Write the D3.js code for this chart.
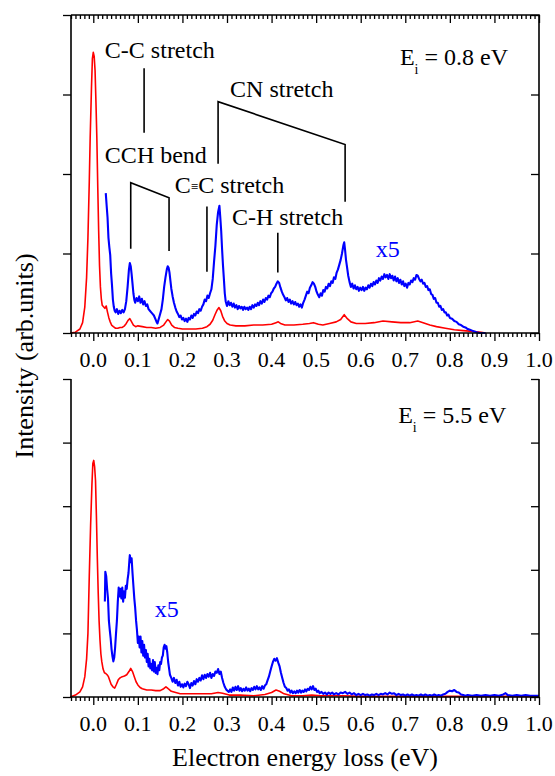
<!DOCTYPE html>
<html><head><meta charset="utf-8">
<script src="https://cdn.jsdelivr.net/npm/d3@7"></script>
<style>body{margin:0;background:#fff}</style>
</head><body>
<svg id="c" width="555" height="776" font-family="Liberation Serif"></svg>
<script>
// ---------- data ----------
const xMajorTicks = [0,0.1,0.2,0.3,0.4,0.5,0.6,0.7,0.8,0.9,1.0];
const xTickLabels = ["0.0","0.1","0.2","0.3","0.4","0.5","0.6","0.7","0.8","0.9","1.0"];
const yTopTicks = [0,1,2,3,4];
const yBotTicks = [0,1,2,3,4,5];

// Ei = 0.8 eV, raw spectrum (red)
const topRed = [[-0.052,0],[-0.04,0.01],[-0.03,0.05],[-0.024,0.13],[-0.019,0.33],[-0.015,0.7],[-0.012,1.2],[-0.009,1.9],[-0.007,2.45],[-0.004,3.1],[-0.002,3.45],[0,3.53],[0.002,3.48],[0.004,3.3],[0.006,2.9],[0.008,2.45],[0.01,1.85],[0.012,1.3],[0.014,0.85],[0.016,0.58],[0.018,0.43],[0.02,0.35],[0.023,0.33],[0.026,0.31],[0.029,0.34],[0.032,0.26],[0.035,0.19],[0.038,0.14],[0.041,0.1],[0.045,0.08],[0.05,0.06],[0.055,0.06],[0.06,0.07],[0.065,0.07],[0.07,0.09],[0.074,0.12],[0.078,0.16],[0.082,0.18],[0.086,0.14],[0.09,0.1],[0.095,0.08],[0.1,0.09],[0.11,0.08],[0.12,0.07],[0.13,0.07],[0.14,0.06],[0.15,0.07],[0.158,0.1],[0.163,0.14],[0.167,0.17],[0.171,0.15],[0.176,0.1],[0.182,0.07],[0.19,0.06],[0.2,0.05],[0.215,0.05],[0.23,0.05],[0.245,0.06],[0.255,0.08],[0.262,0.11],[0.268,0.16],[0.273,0.23],[0.278,0.29],[0.282,0.32],[0.286,0.28],[0.29,0.21],[0.295,0.15],[0.3,0.12],[0.307,0.1],[0.32,0.09],[0.34,0.09],[0.36,0.1],[0.38,0.1],[0.4,0.11],[0.41,0.13],[0.415,0.14],[0.42,0.12],[0.43,0.1],[0.45,0.1],[0.47,0.11],[0.485,0.12],[0.494,0.13],[0.505,0.11],[0.515,0.1],[0.53,0.12],[0.545,0.14],[0.555,0.17],[0.563,0.23],[0.57,0.18],[0.578,0.14],[0.59,0.12],[0.61,0.12],[0.63,0.13],[0.65,0.15],[0.67,0.14],[0.69,0.13],[0.71,0.13],[0.728,0.15],[0.74,0.13],[0.755,0.1],[0.77,0.08],[0.79,0.06],[0.81,0.04],[0.83,0.03],[0.85,0.02],[0.87,0.01],[0.88,0]];

// Ei = 0.8 eV, x5 spectrum (blue)
const topBlue = [[0.028,1.76],[0.03,1.6],[0.032,1.45],[0.034,1.2],[0.036,1.08],[0.038,0.98],[0.04,0.75],[0.042,0.6],[0.044,0.42],[0.046,0.33],[0.048,0.28],[0.05,0.26],[0.053,0.3],[0.056,0.24],[0.059,0.28],[0.062,0.25],[0.065,0.29],[0.068,0.26],[0.071,0.3],[0.074,0.4],[0.077,0.58],[0.08,0.8],[0.082,0.88],[0.084,0.84],[0.086,0.74],[0.088,0.62],[0.09,0.5],[0.092,0.42],[0.094,0.38],[0.097,0.44],[0.1,0.4],[0.103,0.46],[0.106,0.38],[0.109,0.43],[0.112,0.36],[0.115,0.4],[0.118,0.34],[0.121,0.36],[0.124,0.3],[0.127,0.28],[0.13,0.26],[0.133,0.24],[0.136,0.22],[0.139,0.18],[0.142,0.14],[0.144,0.12],[0.147,0.18],[0.15,0.24],[0.153,0.3],[0.156,0.42],[0.159,0.58],[0.162,0.7],[0.165,0.8],[0.167,0.84],[0.169,0.82],[0.171,0.76],[0.173,0.66],[0.175,0.56],[0.178,0.46],[0.181,0.38],[0.184,0.32],[0.187,0.27],[0.19,0.24],[0.193,0.2],[0.196,0.22],[0.199,0.17],[0.202,0.19],[0.205,0.15],[0.208,0.18],[0.211,0.14],[0.214,0.19],[0.217,0.17],[0.22,0.22],[0.223,0.19],[0.226,0.24],[0.229,0.22],[0.232,0.27],[0.235,0.25],[0.238,0.3],[0.241,0.28],[0.244,0.33],[0.247,0.36],[0.25,0.42],[0.253,0.4],[0.256,0.47],[0.259,0.44],[0.262,0.5],[0.265,0.55],[0.268,0.68],[0.271,0.9],[0.274,1.1],[0.277,1.36],[0.28,1.52],[0.283,1.6],[0.285,1.45],[0.287,1.28],[0.289,1.05],[0.291,0.85],[0.293,0.68],[0.295,0.5],[0.297,0.4],[0.3,0.34],[0.303,0.4],[0.306,0.35],[0.309,0.38],[0.312,0.33],[0.315,0.37],[0.318,0.32],[0.321,0.35],[0.324,0.3],[0.327,0.34],[0.33,0.31],[0.333,0.33],[0.336,0.29],[0.339,0.33],[0.342,0.3],[0.345,0.32],[0.348,0.29],[0.351,0.33],[0.354,0.3],[0.357,0.35],[0.36,0.32],[0.363,0.36],[0.366,0.34],[0.369,0.38],[0.372,0.35],[0.375,0.4],[0.378,0.37],[0.381,0.42],[0.384,0.39],[0.387,0.44],[0.39,0.42],[0.393,0.47],[0.396,0.45],[0.399,0.5],[0.402,0.52],[0.405,0.56],[0.408,0.58],[0.411,0.62],[0.414,0.65],[0.417,0.63],[0.42,0.57],[0.423,0.52],[0.426,0.48],[0.429,0.45],[0.432,0.41],[0.435,0.44],[0.438,0.39],[0.441,0.42],[0.444,0.37],[0.447,0.4],[0.45,0.36],[0.453,0.39],[0.456,0.35],[0.459,0.37],[0.462,0.33],[0.465,0.36],[0.468,0.32],[0.471,0.38],[0.474,0.42],[0.477,0.47],[0.48,0.52],[0.483,0.5],[0.486,0.57],[0.489,0.6],[0.492,0.64],[0.495,0.62],[0.498,0.58],[0.501,0.52],[0.504,0.48],[0.507,0.45],[0.51,0.5],[0.513,0.47],[0.516,0.54],[0.519,0.52],[0.522,0.58],[0.525,0.56],[0.528,0.62],[0.531,0.59],[0.534,0.65],[0.537,0.63],[0.54,0.7],[0.543,0.68],[0.546,0.76],[0.549,0.8],[0.552,0.86],[0.555,0.92],[0.558,1.0],[0.561,1.1],[0.563,1.14],[0.565,1.04],[0.567,0.92],[0.569,0.84],[0.572,0.72],[0.575,0.64],[0.578,0.58],[0.581,0.62],[0.584,0.56],[0.587,0.6],[0.59,0.55],[0.593,0.58],[0.596,0.53],[0.599,0.57],[0.602,0.54],[0.605,0.58],[0.608,0.53],[0.611,0.57],[0.614,0.55],[0.617,0.6],[0.62,0.57],[0.623,0.62],[0.626,0.59],[0.629,0.64],[0.632,0.61],[0.635,0.66],[0.638,0.63],[0.641,0.69],[0.644,0.66],[0.647,0.71],[0.65,0.68],[0.653,0.74],[0.656,0.7],[0.659,0.73],[0.662,0.68],[0.665,0.74],[0.668,0.69],[0.671,0.72],[0.674,0.66],[0.677,0.71],[0.68,0.65],[0.683,0.69],[0.686,0.63],[0.689,0.67],[0.692,0.61],[0.695,0.65],[0.698,0.59],[0.701,0.62],[0.704,0.57],[0.707,0.63],[0.71,0.61],[0.713,0.66],[0.716,0.64],[0.719,0.69],[0.722,0.67],[0.725,0.73],[0.728,0.72],[0.731,0.68],[0.734,0.65],[0.737,0.67],[0.74,0.62],[0.743,0.63],[0.746,0.58],[0.749,0.59],[0.752,0.54],[0.755,0.55],[0.758,0.49],[0.761,0.48],[0.764,0.43],[0.767,0.44],[0.77,0.38],[0.773,0.38],[0.776,0.33],[0.779,0.34],[0.782,0.29],[0.785,0.3],[0.788,0.26],[0.791,0.26],[0.794,0.22],[0.797,0.23],[0.8,0.19],[0.805,0.18],[0.81,0.15],[0.815,0.14],[0.82,0.11],[0.825,0.1],[0.83,0.08],[0.835,0.07],[0.84,0.05],[0.845,0.04],[0.85,0.03],[0.855,0.02],[0.86,0.01],[0.866,0],[0.88,0]];

// Ei = 5.5 eV, raw spectrum (red)
const botRed = [[-0.052,0],[-0.04,0.03],[-0.03,0.08],[-0.024,0.16],[-0.019,0.32],[-0.015,0.6],[-0.012,1.0],[-0.009,1.9],[-0.006,2.7],[-0.003,3.35],[-0.001,3.67],[0.001,3.72],[0.003,3.62],[0.005,3.4],[0.007,2.85],[0.009,2.2],[0.011,1.65],[0.013,1.2],[0.015,0.9],[0.017,0.68],[0.019,0.56],[0.022,0.44],[0.025,0.38],[0.028,0.37],[0.031,0.35],[0.034,0.32],[0.037,0.26],[0.04,0.2],[0.044,0.16],[0.048,0.14],[0.052,0.2],[0.056,0.27],[0.06,0.3],[0.065,0.32],[0.07,0.33],[0.075,0.35],[0.08,0.4],[0.084,0.45],[0.088,0.4],[0.092,0.32],[0.096,0.24],[0.1,0.19],[0.105,0.15],[0.11,0.13],[0.12,0.11],[0.13,0.11],[0.14,0.1],[0.15,0.1],[0.158,0.13],[0.163,0.16],[0.168,0.13],[0.175,0.09],[0.185,0.07],[0.195,0.05],[0.21,0.05],[0.23,0.05],[0.25,0.05],[0.265,0.05],[0.28,0.07],[0.29,0.06],[0.305,0.03],[0.33,0.03],[0.36,0.02],[0.385,0.04],[0.4,0.07],[0.41,0.11],[0.418,0.09],[0.428,0.05],[0.445,0.02],[0.47,0.02],[0.49,0.03],[0.51,0.02],[0.56,0.02],[0.6,0.01],[0.7,0.01],[0.8,0.01],[1.0,0.01]];

// Ei = 5.5 eV, x5 spectrum (blue)
const botBlue = [[0.026,1.5],[0.027,1.97],[0.029,1.9],[0.031,1.7],[0.033,1.55],[0.035,1.2],[0.037,1.05],[0.039,0.92],[0.041,0.75],[0.043,0.64],[0.045,0.56],[0.047,0.62],[0.049,0.78],[0.051,1.0],[0.053,1.2],[0.055,1.5],[0.057,1.72],[0.059,1.58],[0.061,1.7],[0.063,1.55],[0.065,1.72],[0.067,1.5],[0.069,1.66],[0.071,1.56],[0.073,1.75],[0.075,1.7],[0.077,1.85],[0.079,1.95],[0.081,2.15],[0.082,2.23],[0.084,2.12],[0.086,2.18],[0.088,1.95],[0.09,1.75],[0.092,1.55],[0.094,1.4],[0.096,1.2],[0.098,1.05],[0.1,0.85],[0.102,0.95],[0.104,0.78],[0.106,0.95],[0.108,0.7],[0.11,0.88],[0.112,0.65],[0.114,0.82],[0.116,0.62],[0.118,0.74],[0.12,0.55],[0.122,0.68],[0.124,0.48],[0.126,0.6],[0.128,0.45],[0.13,0.52],[0.132,0.42],[0.134,0.58],[0.136,0.4],[0.138,0.55],[0.14,0.38],[0.142,0.46],[0.144,0.36],[0.146,0.5],[0.148,0.42],[0.15,0.55],[0.152,0.52],[0.154,0.62],[0.156,0.65],[0.158,0.78],[0.16,0.82],[0.162,0.76],[0.164,0.8],[0.166,0.7],[0.168,0.55],[0.17,0.45],[0.172,0.35],[0.175,0.3],[0.178,0.24],[0.181,0.3],[0.184,0.22],[0.187,0.27],[0.19,0.18],[0.193,0.24],[0.196,0.16],[0.199,0.2],[0.202,0.15],[0.205,0.21],[0.208,0.17],[0.211,0.24],[0.214,0.2],[0.217,0.14],[0.22,0.22],[0.223,0.18],[0.226,0.25],[0.229,0.2],[0.232,0.28],[0.235,0.24],[0.238,0.3],[0.241,0.26],[0.244,0.34],[0.247,0.28],[0.25,0.35],[0.253,0.3],[0.256,0.36],[0.259,0.32],[0.262,0.38],[0.265,0.3],[0.268,0.36],[0.271,0.33],[0.274,0.4],[0.277,0.38],[0.28,0.44],[0.283,0.36],[0.286,0.4],[0.289,0.3],[0.292,0.22],[0.295,0.16],[0.298,0.12],[0.301,0.1],[0.304,0.08],[0.307,0.12],[0.31,0.08],[0.313,0.15],[0.316,0.1],[0.319,0.16],[0.322,0.11],[0.325,0.17],[0.328,0.1],[0.331,0.14],[0.334,0.09],[0.337,0.13],[0.34,0.1],[0.343,0.15],[0.346,0.1],[0.349,0.13],[0.352,0.09],[0.355,0.14],[0.358,0.11],[0.361,0.16],[0.364,0.12],[0.367,0.17],[0.37,0.12],[0.373,0.15],[0.376,0.11],[0.379,0.17],[0.382,0.13],[0.385,0.18],[0.388,0.2],[0.391,0.26],[0.394,0.32],[0.397,0.4],[0.4,0.48],[0.403,0.55],[0.406,0.6],[0.409,0.57],[0.412,0.61],[0.415,0.54],[0.418,0.48],[0.421,0.38],[0.424,0.3],[0.427,0.22],[0.43,0.16],[0.433,0.14],[0.436,0.1],[0.439,0.12],[0.442,0.07],[0.445,0.1],[0.448,0.06],[0.451,0.09],[0.454,0.06],[0.457,0.1],[0.46,0.07],[0.463,0.11],[0.466,0.07],[0.469,0.1],[0.472,0.08],[0.475,0.12],[0.478,0.09],[0.481,0.13],[0.484,0.11],[0.487,0.16],[0.49,0.12],[0.493,0.17],[0.496,0.11],[0.499,0.13],[0.502,0.08],[0.505,0.1],[0.508,0.06],[0.512,0.08],[0.516,0.05],[0.52,0.07],[0.524,0.04],[0.528,0.07],[0.532,0.05],[0.536,0.07],[0.54,0.04],[0.545,0.06],[0.55,0.04],[0.555,0.07],[0.56,0.06],[0.565,0.08],[0.57,0.05],[0.575,0.07],[0.58,0.04],[0.585,0.06],[0.59,0.03],[0.595,0.05],[0.6,0.03],[0.605,0.05],[0.61,0.03],[0.615,0.04],[0.62,0.02],[0.625,0.04],[0.63,0.03],[0.635,0.05],[0.64,0.03],[0.645,0.05],[0.65,0.04],[0.655,0.06],[0.66,0.04],[0.665,0.07],[0.67,0.05],[0.675,0.06],[0.68,0.03],[0.685,0.05],[0.69,0.03],[0.695,0.04],[0.7,0.02],[0.705,0.04],[0.71,0.02],[0.715,0.04],[0.72,0.02],[0.725,0.03],[0.73,0.02],[0.735,0.04],[0.74,0.02],[0.745,0.04],[0.75,0.02],[0.755,0.03],[0.76,0.02],[0.765,0.04],[0.77,0.02],[0.775,0.03],[0.78,0.02],[0.785,0.04],[0.79,0.05],[0.795,0.08],[0.8,0.1],[0.805,0.09],[0.81,0.11],[0.815,0.08],[0.82,0.07],[0.825,0.04],[0.83,0.03],[0.835,0.02],[0.84,0.03],[0.85,0.02],[0.86,0.03],[0.87,0.02],[0.88,0.03],[0.89,0.02],[0.9,0.03],[0.91,0.02],[0.92,0.04],[0.925,0.06],[0.93,0.03],[0.94,0.02],[0.95,0.03],[0.96,0.02],[0.97,0.03],[0.98,0.02],[0.99,0.02],[1.0,0.02]];

// annotation labels (top panel, data coordinates)
const annoLines = [
  [[0.114,3.33],[0.114,2.52]],
  [[0.084,1.06],[0.084,1.89],[0.170,1.70],[0.170,1.03]],
  [[0.255,1.59],[0.255,0.77]],
  [[0.280,2.13],[0.280,2.91],[0.565,2.37],[0.565,1.65]],
  [[0.414,1.26],[0.414,0.76]]
];
const annoTexts = [
  {x:0.026,y:3.46,parts:["C-C stretch"]},
  {x:0.026,y:2.14,parts:["CCH bend"]},
  {x:0.307,y:2.97,parts:["CN stretch"]},
  {x:0.183,y:1.76,parts:["C","\u2261","C stretch"]},
  {x:0.311,y:1.36,parts:["C-H stretch"]}
];
</script>
<script>
const FAM = "Liberation Serif";
const svg = d3.select("#c");
const x = d3.scaleLinear().domain([-0.05,1.0]).range([71,539]);
const yT = d3.scaleLinear().domain([0,4]).range([333,15]);
const yB = d3.scaleLinear().domain([0,5]).range([697,379]);
const minor = d3.range(-5,101).filter(i=>i%10!==0).map(i=>i/100);
const FS = 22;

function txt(sel, size){
  return sel.attr("font-family",FAM).attr("font-size",size);
}

function panel(y, redD, blueD, hasTop, ticks){
  const g = svg.append("g");
  const line = d3.line().x(d=>x(d[0])).y(d=>y(d[1]));
  g.append("path").datum(redD).attr("d",line).attr("fill","none").attr("stroke","#ff0000").attr("stroke-width",1.6).attr("stroke-linejoin","round");
  g.append("path").datum(blueD).attr("d",line).attr("fill","none").attr("stroke","#0000ff").attr("stroke-width",2.1).attr("stroke-linejoin","round");
  const y0 = y.range()[0], y1 = y.range()[1];
  const bMin = g.append("g").attr("transform",`translate(0,${y0})`)
    .call(d3.axisBottom(x).tickValues(minor).tickSize(4).tickFormat(""));
  bMin.select(".domain").remove();
  const bMaj = g.append("g").attr("transform",`translate(0,${y0})`)
    .call(d3.axisBottom(x).tickValues(xMajorTicks).tickSize(8).tickFormat(""));
  bMaj.select(".domain").remove();
  g.selectAll("text.xl").data(xMajorTicks).join("text").attr("class","xl")
    .attr("x",d=>x(d)).attr("y",y0+33.5).attr("text-anchor","middle")
    .attr("font-family",FAM).attr("font-size",FS).attr("fill","#000")
    .text((d,i)=>xTickLabels[i]);
  if(hasTop){
    const tMaj = g.append("g").attr("transform",`translate(0,${y1})`)
      .call(d3.axisTop(x).tickValues(xMajorTicks).tickSize(-8).tickFormat(""));
    tMaj.select(".domain").remove();
    const tMin = g.append("g").attr("transform",`translate(0,${y1})`)
      .call(d3.axisTop(x).tickValues(minor).tickSize(-4).tickFormat(""));
    tMin.select(".domain").remove();
  }
  const l = g.append("g").attr("transform",`translate(71,0)`).call(d3.axisLeft(y).tickValues(ticks).tickSize(8).tickFormat(""));
  l.select(".domain").remove();
  const r = g.append("g").attr("transform",`translate(539,0)`).call(d3.axisRight(y).tickValues(ticks).tickSize(-8).tickFormat(""));
  r.select(".domain").remove();
  g.selectAll(".tick line").attr("stroke","#000").attr("stroke-width",1.3);
  const fr = [[71,y1],[71,y0],[539,y0],[539,y1]];
  if(hasTop) fr.push([71,y1]);
  g.append("path").attr("d",d3.line()(fr)).attr("fill","none").attr("stroke","#000").attr("stroke-width",1.6);
  return g;
}

panel(yT, topRed, topBlue, true, yTopTicks);
panel(yB, botRed, botBlue, false, yBotTicks);

// annotations
const aLine = d3.line().x(d=>x(d[0])).y(d=>yT(d[1]));
annoLines.forEach(p=>{
  svg.append("path").attr("d",aLine(p)).attr("fill","none").attr("stroke","#000").attr("stroke-width",1.6);
});
annoTexts.forEach(a=>{
  const t = txt(svg.append("text").attr("x",x(a.x)).attr("y",yT(a.y)), 24).attr("fill","#000");
  a.parts.forEach(p=>{
    if(p==="\u2261") t.append("tspan").text(p).attr("font-size",13).attr("dy",-2);
    else if(a.parts.length>1 && p!=="C") t.append("tspan").text(p).attr("dy",2);
    else t.append("tspan").text(p);
  });
});
function eiLabel(xv,yv,yS,val){
  const t = txt(svg.append("text").attr("x",x(xv)).attr("y",yS(yv)), 24).attr("fill","#000");
  t.append("tspan").text("E");
  t.append("tspan").text("i").attr("font-size",14).attr("dy",9);
  t.append("tspan").text(" = "+val+" eV").attr("dy",-9);
}
eiLabel(0.688,3.37,yT,"0.8");
eiLabel(0.684,4.31,yB,"5.5");
txt(svg.append("text").attr("x",x(0.634)).attr("y",yT(0.956)),24).attr("fill","#0000ff").text("x5");
txt(svg.append("text").attr("x",x(0.138)).attr("y",yB(1.26)),24).attr("fill","#0000ff").text("x5");

// axis titles
txt(svg.append("text").attr("x",305).attr("y",766).attr("text-anchor","middle"),26).attr("fill","#000").text("Electron energy loss (eV)");
txt(svg.append("text").attr("transform","translate(33,356) rotate(-90)").attr("text-anchor","middle"),26).attr("fill","#000").text("Intensity (arb.units)");
</script>
</body></html>
